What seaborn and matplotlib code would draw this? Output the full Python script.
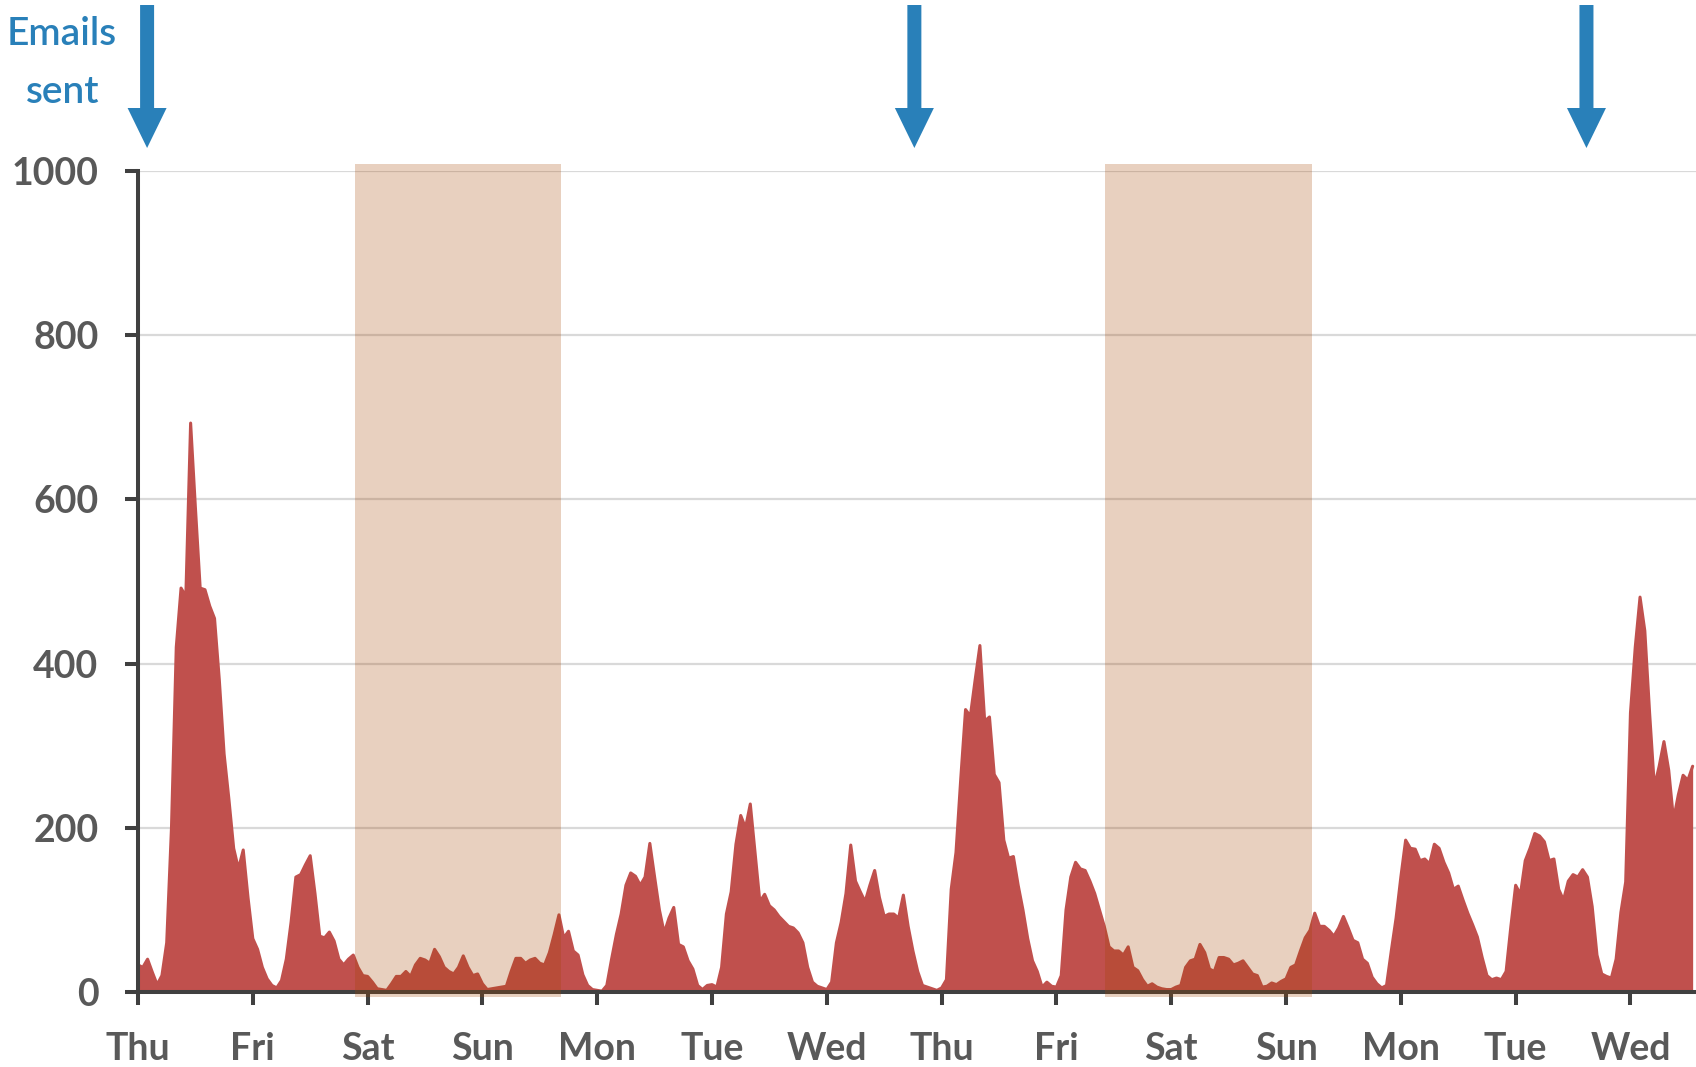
import numpy as np
import pandas as pd
import matplotlib
matplotlib.use("Agg")
import matplotlib.pyplot as plt
import seaborn as sns
from matplotlib.patches import FancyArrow
from matplotlib.transforms import blended_transform_factory

# ---------------- data ----------------
day_labels = ["Thu", "Fri", "Sat", "Sun", "Mon", "Tue", "Wed",
              "Thu", "Fri", "Sat", "Sun", "Mon", "Tue", "Wed"]

# hourly emails sent, first week (Thu .. Wed)
emails_week1 = [
    33, 30, 40, 24, 9, 20, 60, 200, 420, 492, 482, 693, 590, 492, 490, 470, 455, 380, 290, 235, 175, 150, 173, 115,
    65, 52, 30, 16, 8, 5, 14, 40, 85, 140, 143, 155, 166, 120, 68, 66, 73, 62, 40, 33, 40, 45, 30, 20,
    19, 12, 4, 3, 2, 10, 19, 19, 25, 19, 33, 41, 39, 35, 52, 43, 30, 25, 22, 30, 44, 30, 20, 22,
    10, 3, 4, 5, 6, 7, 25, 41, 41, 35, 39, 41, 35, 33, 48, 70, 94, 66, 74, 50, 45, 21, 8, 3,
    2, 1, 8, 40, 70, 95, 130, 145, 141, 130, 140, 181, 140, 100, 72, 90, 103, 58, 55, 38, 28, 8, 3, 8,
    9, 6, 30, 95, 122, 180, 215, 200, 229, 170, 110, 119, 105, 100, 92, 86, 80, 78, 72, 60, 30, 12, 7, 5,
    3, 12, 60, 85, 120, 179, 135, 122, 110, 130, 148, 115, 92, 95, 95, 90, 118, 80, 50, 25, 8, 6, 4, 2,
]
# hourly emails sent, second week (Thu .. Wed afternoon)
emails_week2 = [
    5, 15, 125, 170, 260, 344, 336, 380, 422, 330, 335, 265, 255, 185, 163, 165, 130, 100, 65, 38, 25, 6, 12, 7,
    6, 20, 100, 140, 158, 150, 148, 135, 120, 100, 80, 55, 50, 50, 45, 55, 30, 26, 15, 7, 10, 6, 4, 3,
    3, 6, 8, 30, 38, 40, 58, 48, 28, 25, 42, 42, 40, 33, 35, 38, 30, 22, 20, 6, 7, 11, 9, 13,
    16, 30, 33, 50, 66, 75, 96, 80, 80, 75, 68, 78, 92, 78, 63, 60, 40, 35, 18, 10, 5, 8, 50, 90,
    140, 185, 175, 174, 160, 162, 156, 180, 175, 158, 145, 125, 129, 112, 96, 82, 67, 42, 20, 15, 17, 15, 25, 80,
    130, 119, 160, 175, 193, 190, 183, 160, 162, 125, 112, 135, 143, 140, 149, 140, 104, 45, 22, 19, 17, 40, 97, 134,
    340, 420, 481, 440, 340, 250, 275, 305, 270, 210, 240, 264, 258, 275,
]

weekend_start_hours = [45.3, 202.1]
weekend_end_hours = [88.4, 245.5]
send_event_hours = [1.9, 162.3, 302.8]
y_ticks = [0, 200, 400, 600, 800, 1000]
label_text = ["Emails", "sent"]

values = emails_week1 + emails_week2
df = pd.DataFrame({"hour": np.arange(len(values)), "emails": values})

# ---------------- style ----------------
sns.set_theme(style="white")
plt.rcParams['font.family'] = ['Lato', 'DejaVu Sans']

RED = "#C0504D"
BLUE = "#2980B9"
GREY = "#595959"
AXC = "#404040"
SHADE = (164 / 255, 68 / 255, 0)

W, H = 1696, 1067
fig = plt.figure(figsize=(W / 100, H / 100), dpi=100)
ax = fig.add_axes([138 / W, (H - 992) / H, 1 - 138 / W, (992 - 171) / H])

ax.yaxis.grid(True, color="#D9D9D9", lw=1.6)
ax.set_axisbelow(True)

ax.fill_between(df["hour"], df["emails"], 0, color=RED, lw=0, zorder=2)
sns.lineplot(data=df, x="hour", y="emails", ax=ax, color=RED, lw=2.2,
             zorder=2.2, solid_joinstyle="round", solid_capstyle="round")

for s, e in zip(weekend_start_hours, weekend_end_hours):
    ax.axvspan(s, e, ymin=-0.0066, ymax=1.008, color=SHADE, alpha=0.25,
               lw=0, zorder=4, clip_on=False)

# arrows for send events
trans = blended_transform_factory(ax.transData, fig.transFigure)
px_per_hour = (W - 138) / 325.7
for h in send_event_hours:
    arr = FancyArrow(h, (H - 5) / H, 0, -(148 - 5) / H,
                     width=14 / px_per_hour, head_width=39 / px_per_hour,
                     head_length=40 / H, length_includes_head=True,
                     transform=trans, color=BLUE, lw=0, clip_on=False)
    ax.add_patch(arr)

# axes
for side in ["top", "right"]:
    ax.spines[side].set_visible(False)
for side in ["left", "bottom"]:
    ax.spines[side].set_color(AXC)
    ax.spines[side].set_linewidth(2.9)
    ax.spines[side].set_zorder(3)

ax.set_xticks(np.arange(len(day_labels)) * 24)
ax.set_xticklabels(day_labels)
ax.set_yticks(y_ticks)
ax.set_yticklabels([str(v) for v in y_ticks])
ax.tick_params(axis="x", direction="out", length=9, width=2.9, color=AXC,
               labelsize=27, labelcolor=GREY, pad=19.5, bottom=True)
ax.tick_params(axis="y", direction="out", length=9.5, width=2.9, color=AXC,
               labelsize=27, labelcolor=GREY, pad=19, left=True)
for lbl in ax.get_xticklabels() + ax.get_yticklabels():
    lbl.set_fontweight("bold")
ax.set_xlabel("")
ax.set_ylabel("")

ax.set_xlim(0, 325.7)
ax.set_ylim(0, 1000)

fig.text(62 / W, (H - 45) / H, label_text[0], ha="center", va="baseline",
         fontsize=28, color=BLUE, fontweight="semibold")
fig.text(63 / W, (H - 103) / H, label_text[1], ha="center", va="baseline",
         fontsize=28, color=BLUE, fontweight="semibold")

fig.savefig("out.png", dpi=100)
